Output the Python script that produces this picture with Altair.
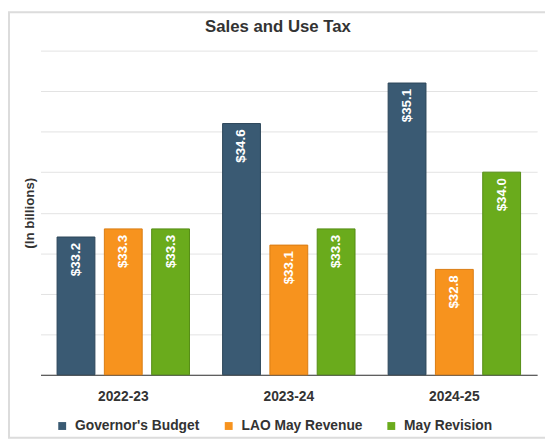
import altair as alt
import pandas as pd

years = ["2022-23", "2023-24", "2024-25"]
series = ["Governor's Budget", "LAO May Revenue", "May Revision"]
governors_budget = [33.2, 34.6, 35.1]
lao_may_revenue = [33.3, 33.1, 32.8]
may_revision = [33.3, 33.3, 34.0]
y_ticks = [31.5, 32.0, 32.5, 33.0, 33.5, 34.0, 34.5, 35.0, 35.5]

fill_colors = ["#3A5A73", "#F7931E", "#6AAB1C"]
edge_colors = ["#2C4558", "#D97C12", "#548C14"]

rows = []
for s, vals in zip(series, [governors_budget, lao_may_revenue, may_revision]):
    for yr, v in zip(years, vals):
        rows.append({"year": yr, "series": s, "value": v})
df = pd.DataFrame(rows)

W, H = 504, 329
FONT = "Liberation Sans"

x_enc = alt.X("year:N", sort=years, title=None,
              scale=alt.Scale(paddingInner=0.2, paddingOuter=0.1),
              axis=alt.Axis(labelFontSize=14, labelFontWeight="bold", labelColor="#333333",
                            labelPadding=15, ticks=False, domainColor="#333333",
                            domainWidth=1, grid=False, labelAngle=0))
xoff = alt.XOffset("series:N", sort=series, scale=alt.Scale(paddingInner=0.2, paddingOuter=0))
y_enc = alt.Y("value:Q", title="(In billions)",
              scale=alt.Scale(domain=[31.5, 35.5], zero=False, nice=False, clamp=True),
              axis=alt.Axis(values=y_ticks, labels=False, ticks=False, domain=False,
                            grid=True, gridColor="#e3e3e3", titleFontSize=13.5,
                            titleFontWeight="bold", titleColor="#333333", titleX=-11,
                            titleBaseline="middle"))

bars = alt.Chart(df).mark_bar(strokeWidth=1).encode(
    x=x_enc, xOffset=xoff, y=y_enc,
    fill=alt.Fill("series:N", sort=series, scale=alt.Scale(domain=series, range=fill_colors),
                  legend=alt.Legend(title=None, orient="none", legendX=15, legendY=374,
                                    direction="horizontal", symbolType="square",
                                    symbolSize=64, symbolStrokeWidth=0, labelFontSize=14,
                                    labelFontWeight="bold", labelColor="#333333",
                                    columnPadding=22, labelOffset=6)),
    stroke=alt.Stroke("series:N", sort=series, scale=alt.Scale(domain=series, range=edge_colors),
                      legend=None),
)

labels = alt.Chart(df).mark_text(angle=270, align="right", baseline="middle", dx=-6,
                                 color="white", fontWeight="bold", fontSize=13.5, font=FONT).encode(
    x=alt.X("year:N", sort=years), xOffset=alt.XOffset("series:N", sort=series),
    y="value:Q", text=alt.Text("value:Q", format="$.1f"),
)

frame = alt.Chart(pd.DataFrame({"a": [0]})).mark_rect(
    fill="white", fillOpacity=0, stroke="#dcdcdc", strokeWidth=2).encode(
    x=alt.value(-32), x2=alt.value(W + 20), y=alt.value(-39), y2=alt.value(H + 64))

chart = alt.layer(frame, bars, labels).properties(
    width=W, height=H,
    title=alt.Title("Sales and Use Tax", fontSize=17, fontWeight="bold", color="#333333",
                    font=FONT, anchor="middle", dx=-11, offset=-25, frame="group"),
    autosize=alt.AutoSizeParams(type="none"),
    padding={"left": 33, "top": 40, "right": 8, "bottom": 66},
).configure(font=FONT).configure_view(stroke=None)

chart.save("out.html", embed_options={"renderer": "svg", "actions": False})
